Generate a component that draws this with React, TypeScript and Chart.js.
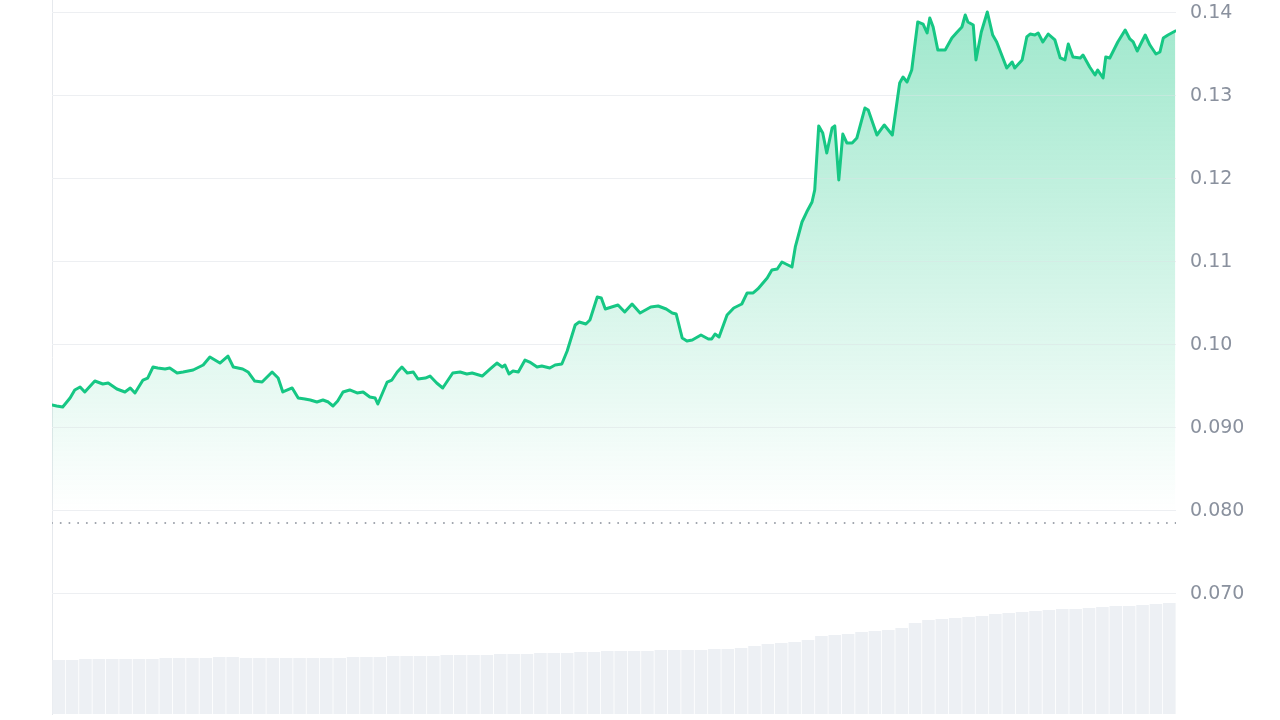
import { useEffect, useRef } from "react";
import { Chart, registerables } from "chart.js";

Chart.register(...registerables);

// time in hours over the 7-day window, and price in USD
const priceHours = [
  0.0, 0.7, 1.6, 2.7, 3.4, 4.2, 4.9, 6.4, 7.6, 8.4, 9.7, 10.9, 11.7, 12.4, 13.6, 14.3, 15.1, 15.8, 16.9, 17.6,
  18.7, 19.6, 21.1, 22.6, 23.6, 25.1, 26.3, 27.1, 28.5, 29.3, 30.3, 31.4, 32.9, 33.8, 34.5, 35.9, 36.8, 37.8, 38.6, 39.6,
  40.5, 41.3, 42.0, 42.7, 43.5, 44.5, 45.6, 46.5, 47.5, 48.3, 48.7, 50.1, 50.8, 51.6, 52.3, 53.1, 54.0, 54.7, 55.8, 56.5,
  57.5, 58.4, 59.9, 61.0, 62.0, 62.8, 64.3, 65.5, 66.5, 67.3, 67.7, 68.3, 68.9, 69.7, 70.7, 71.4, 72.5, 73.2, 74.4, 75.2,
  76.2, 77.0, 78.2, 78.8, 79.8, 80.4, 81.5, 82.1, 82.7, 84.6, 85.6, 86.7, 87.9, 89.5, 90.6, 91.8, 92.7, 93.3, 94.2, 94.9,
  95.7, 97.0, 98.1, 98.6, 99.1, 99.7, 100.9, 101.9, 103.1, 103.9, 104.8, 105.5, 106.9, 107.6, 108.4, 109.1, 110.6, 111.1, 112.1, 112.8,
  113.6, 114.0, 114.6, 115.2, 115.8, 116.6, 117.0, 117.6, 118.2, 118.8, 119.6, 120.3, 121.5, 122.0, 123.3, 124.4, 125.6, 126.7, 127.2, 127.8,
  128.5, 129.4, 130.2, 130.8, 131.2, 131.7, 132.4, 133.5, 134.5, 135.3, 136.0, 136.5, 136.9, 137.7, 138.1, 138.9, 139.8, 140.6, 141.2, 142.7,
  143.5, 143.9, 145.0, 145.7, 146.2, 146.9, 147.4, 148.1, 148.9, 149.9, 150.7, 151.4, 151.9, 152.6, 153.7, 154.1, 155.1, 155.9, 156.3, 157.1,
  157.5, 158.1, 159.3, 160.4, 161.1, 161.6, 162.2, 163.4, 164.1, 165.0, 165.6, 166.1, 166.8, 167.9,
];

const prices = [
  0.09277, 0.09265, 0.09253, 0.09361, 0.09458, 0.09494, 0.09434, 0.09566, 0.0953, 0.09542, 0.0947, 0.09434, 0.09482, 0.09422, 0.09578, 0.09602, 0.09735, 0.09723, 0.09711, 0.09723,
  0.09663, 0.09675, 0.09699, 0.09759, 0.09855, 0.09783, 0.09867, 0.09735, 0.09711, 0.09675, 0.09566, 0.09554, 0.09675, 0.09602, 0.09434, 0.09482, 0.09361, 0.09349, 0.09337, 0.09313,
  0.09337, 0.09313, 0.09265, 0.09325, 0.09434, 0.09458, 0.09422, 0.09434, 0.09373, 0.09361, 0.09289, 0.09554, 0.09578, 0.09675, 0.09735, 0.09663, 0.09675, 0.0959, 0.09602, 0.09626,
  0.09542, 0.09482, 0.09663, 0.09675, 0.09651, 0.09663, 0.09626, 0.09711, 0.09783, 0.09735, 0.09759, 0.09651, 0.09687, 0.09675, 0.09819, 0.09795, 0.09735, 0.09747, 0.09723, 0.09759,
  0.09771, 0.09928, 0.10241, 0.10277, 0.10253, 0.10301, 0.10578, 0.10566, 0.10434, 0.10482, 0.10398, 0.10494, 0.10386, 0.10458, 0.1047, 0.10434, 0.10386, 0.10373, 0.10084, 0.10048,
  0.1006, 0.1012, 0.10072, 0.10072, 0.10133, 0.10096, 0.10361, 0.10446, 0.10494, 0.10627, 0.10627, 0.10675, 0.10807, 0.10904, 0.10916, 0.11, 0.1094, 0.11181, 0.11482, 0.11602,
  0.11723, 0.11867, 0.12639, 0.12554, 0.12313, 0.12614, 0.12639, 0.11988, 0.12542, 0.12434, 0.12434, 0.12494, 0.12855, 0.12831, 0.1253, 0.12651, 0.1253, 0.13157, 0.13229, 0.13169,
  0.13313, 0.13892, 0.13867, 0.13759, 0.1394, 0.13831, 0.13554, 0.13554, 0.13699, 0.13771, 0.13831, 0.13976, 0.13892, 0.13855, 0.13434, 0.13771, 0.14012, 0.13735, 0.13651, 0.13337,
  0.1341, 0.13337, 0.13434, 0.13711, 0.13747, 0.13735, 0.13759, 0.13651, 0.13747, 0.13675, 0.13458, 0.13434, 0.13627, 0.1347, 0.13458, 0.13494, 0.13349, 0.13253, 0.13313, 0.13217,
  0.1347, 0.13458, 0.13651, 0.13795, 0.13687, 0.13651, 0.13542, 0.13735, 0.13614, 0.13506, 0.1353, 0.13699, 0.13735, 0.13783,
];

// volume bars (2-hour buckets), arbitrary units
const volumeHours = [
  1, 3, 5, 7, 9, 11, 13, 15, 17, 19, 21, 23, 25, 27, 29, 31, 33, 35, 37, 39, 41, 43, 45, 47, 49, 51, 53, 55, 57, 59,
  61, 63, 65, 67, 69, 71, 73, 75, 77, 79, 81, 83, 85, 87, 89, 91, 93, 95, 97, 99, 101, 103, 105, 107, 109, 111, 113, 115, 117, 119,
  121, 123, 125, 127, 129, 131, 133, 135, 137, 139, 141, 143, 145, 147, 149, 151, 153, 155, 157, 159, 161, 163, 165, 167,
];
const volumes = [
  5.4, 5.4, 5.5, 5.5, 5.5, 5.5, 5.5, 5.5, 5.6, 5.6, 5.6, 5.6, 5.7, 5.7, 5.6, 5.6, 5.6, 5.6, 5.6, 5.6,
  5.6, 5.6, 5.7, 5.7, 5.7, 5.8, 5.8, 5.8, 5.8, 5.9, 5.9, 5.9, 5.9, 6.0, 6.0, 6.0, 6.1, 6.1, 6.1, 6.2,
  6.2, 6.3, 6.3, 6.3, 6.3, 6.4, 6.4, 6.4, 6.4, 6.5, 6.5, 6.6, 6.8, 7.0, 7.1, 7.2, 7.4, 7.8, 7.9, 8.0,
  8.2, 8.3, 8.4, 8.6, 9.1, 9.4, 9.5, 9.6, 9.7, 9.8, 10.0, 10.1, 10.2, 10.3, 10.4, 10.5, 10.5, 10.6, 10.7, 10.8,
  10.8, 10.9, 11.0, 11.1,
];

const tickValues = [0.07, 0.08, 0.09, 0.1, 0.11, 0.12, 0.13, 0.14];
const tickLabels = ["0.070", "0.080", "0.090", "0.10", "0.11", "0.12", "0.13", "0.14"];
const referencePrice = 0.07855;
const hourRange = [0, 168];
const priceRange = [0.055542, 0.141566];
const volumeRange = [0, 71.4];
const fadeToPrice = 0.08;

const GREEN = "#16c784";

export default function App() {
  const ref = useRef<HTMLCanvasElement | null>(null);

  useEffect(() => {
    const canvas = ref.current;
    if (!canvas) return;

    const linePts = priceHours.map((h, i) => ({ x: h, y: prices[i] }));
    const volPts = volumeHours.map((h, i) => ({ x: h, y: volumes[i] }));
    const refPts = [
      { x: hourRange[0], y: referencePrice },
      { x: hourRange[1], y: referencePrice },
    ];

    const gridOverlay = {
      id: "gridOverlay",
      afterDatasetDraw(chart: any, args: any) {
        if (args.index !== 1) return;
        const { ctx, chartArea: a, scales } = chart;
        const ys = scales.y;
        ctx.save();
        ctx.strokeStyle = "rgba(255,255,255,0.4)";
        ctx.lineWidth = 1;
        for (const t of ys.ticks) {
          const p = ys.getPixelForValue(t.value);
          const py = Math.round(p - 0.5) + 0.5;
          ctx.beginPath();
          ctx.moveTo(a.left, py);
          ctx.lineTo(a.right, py);
          ctx.stroke();
        }
        ctx.restore();
      },
    };

    const chart = new Chart(canvas, {
      type: "line",
      data: {
        datasets: [
          {
            type: "bar",
            data: volPts as any,
            yAxisID: "yv",
            backgroundColor: "#edf0f4",
            categoryPercentage: 0.94,
            barPercentage: 1,
            order: 3,
          } as any,
          {
            type: "line",
            data: linePts as any,
            yAxisID: "y",
            borderColor: "transparent",
            borderWidth: 0,
            pointRadius: 0,
            tension: 0,
            fill: "start",
            order: 2,
            backgroundColor: (c: any) => {
              const ch = c.chart;
              const area = ch.chartArea;
              if (!area) return "rgba(22,199,132,0.2)";
              const g = ch.ctx.createLinearGradient(0, area.top, 0, ch.scales.y.getPixelForValue(fadeToPrice));
              g.addColorStop(0, "rgba(22,199,132,0.42)");
              g.addColorStop(1, "rgba(22,199,132,0)");
              return g;
            },
          } as any,
          {
            type: "line",
            data: linePts as any,
            yAxisID: "y",
            borderColor: GREEN,
            borderWidth: 3,
            pointRadius: 0,
            tension: 0,
            fill: false,
            borderJoinStyle: "round",
            borderCapStyle: "round",
            order: 1,
          } as any,
          {
            type: "line",
            data: refPts as any,
            yAxisID: "y",
            borderColor: "#9ca1aa",
            borderWidth: 2,
            borderDash: [0.01, 8.7],
            borderCapStyle: "round",
            pointRadius: 0,
            fill: false,
            order: 0,
          } as any,
        ],
      },
      options: {
        animation: false,
        responsive: true,
        maintainAspectRatio: false,
        events: [],
        layout: { padding: { left: 52, right: 0, top: 0, bottom: 6 } },
        plugins: {
          legend: { display: false },
          tooltip: { enabled: false },
        },
        scales: {
          x: {
            type: "linear",
            min: hourRange[0],
            max: hourRange[1],
            offset: false,
            grid: { offset: false },
            display: false,
          },
          y: {
            position: "right",
            min: priceRange[0],
            max: priceRange[1],
            afterBuildTicks: (s: any) => {
              s.ticks = tickValues.map((v) => ({ value: v }));
            },
            afterFit: (s: any) => {
              s.width = 104;
              s.paddingTop = 0;
              s.paddingBottom = 0;
            },
            grid: { color: "#e2e5e9", lineWidth: 1, drawTicks: false },
            border: { display: false },
            ticks: {
              padding: 14,
              color: "#8a919e",
              font: { family: "DejaVu Sans", size: 19 },
              callback: (v: any) => {
                const i = tickValues.findIndex((t) => Math.abs(t - Number(v)) < 1e-9);
                return i >= 0 ? tickLabels[i] : "";
              },
            },
          },
          yv: {
            position: "left",
            min: volumeRange[0],
            max: volumeRange[1],
            display: true,
            afterFit: (s: any) => {
              s.width = 0;
              s.paddingTop = 0;
              s.paddingBottom = 0;
            },
            grid: { display: false },
            ticks: { display: false },
            border: { display: true, color: "#e6e9ed", width: 1 },
          },
        } as any,
      },
      plugins: [gridOverlay],
    });

    return () => chart.destroy();
  }, []);

  return (
    <div style={{ position: "fixed", left: 0, top: 0, width: 1280, height: 720, background: "#fff" }}>
      <canvas ref={ref} />
    </div>
  );
}
